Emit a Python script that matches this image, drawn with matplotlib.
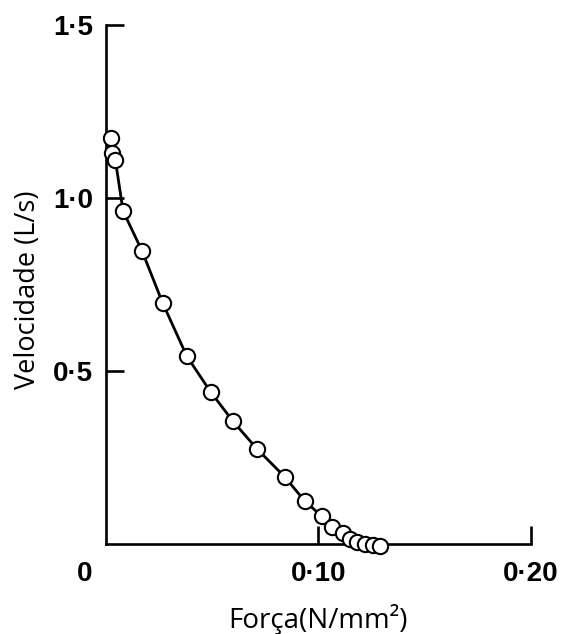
import numpy as np
import matplotlib.pyplot as plt

# Force-velocity data
forca = [0.0022, 0.0029, 0.0045, 0.0081, 0.0170, 0.0268, 0.0381, 0.0494, 0.0598, 0.0711,
         0.0842, 0.0936, 0.1015, 0.1062, 0.1114, 0.1148, 0.1183, 0.1219, 0.1255, 0.1292]
velocidade = [1.174, 1.130, 1.110, 0.963, 0.848, 0.696, 0.543, 0.439, 0.355, 0.275,
              0.194, 0.124, 0.081, 0.050, 0.031, 0.014, 0.007, 0.000, -0.003, -0.006]

x_ticks = [0.10, 0.20]
x_ticklabels = ['0·10', '0·20']
y_ticks = [0.5, 1.0, 1.5]
y_ticklabels = ['0·5', '1·0', '1·5']

fig = plt.figure(figsize=(5.63, 6.34), dpi=100)
ax = fig.add_axes([0.188, 0.142, 0.755, 0.818])

ax.plot(forca, velocidade, '-', color='black', lw=2.0, clip_on=False, zorder=2)
ax.plot(forca, velocidade, 'o', ms=11, mfc='white', mec='black', mew=1.5,
        clip_on=False, zorder=3)

ax.set_xlim(0, 0.2)
ax.set_ylim(0, 1.5)
for s in ['top', 'right']:
    ax.spines[s].set_visible(False)
for s in ['left', 'bottom']:
    ax.spines[s].set_linewidth(1.9)

ax.set_xticks(x_ticks)
ax.set_xticklabels(x_ticklabels)
ax.set_yticks(y_ticks)
ax.set_yticklabels(y_ticklabels)
ax.tick_params(axis='both', direction='in', length=13, width=1.9)
ax.tick_params(axis='x', pad=12)
ax.tick_params(axis='y', pad=9)
for lab in ax.get_xticklabels() + ax.get_yticklabels():
    lab.set_fontfamily('Liberation Sans')
    lab.set_fontweight('bold')
    lab.set_fontsize(20)

# shared origin label
ax.annotate('0', xy=(0, 0), xycoords='axes fraction', xytext=(-15, -12),
            textcoords='offset points', ha='center', va='top',
            fontfamily='Liberation Sans', fontweight='bold', fontsize=20)

ax.set_xlabel('Força(N/mm²)', fontfamily='Open Sans', fontsize=20)
ax.set_ylabel('Velocidade (L/s)', fontfamily='Open Sans', fontsize=19.5)
ax.xaxis.set_label_coords(0.5, -0.115)
ax.yaxis.set_label_coords(-0.15, 0.49)

fig.savefig('out.png', dpi=100)
